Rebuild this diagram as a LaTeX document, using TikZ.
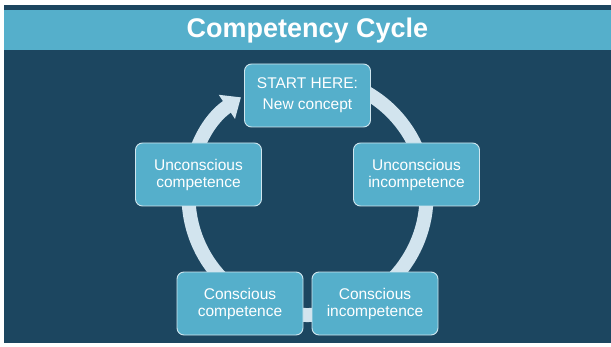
\documentclass[tikz,border=0pt]{standalone}
\usepackage{fontspec}
\setmainfont{Liberation Sans}
\usetikzlibrary{arrows.meta}
\definecolor{navy}{HTML}{1C4660}
\definecolor{band}{HTML}{55AFCB}
\definecolor{ringcol}{HTML}{D2E4EE}
\definecolor{edgecol}{HTML}{CFE6EF}

\begin{document}
\begin{tikzpicture}[
    x=1pt, y=1pt,
    every node/.style={font=\fontsize{15.5}{17}\selectfont, text=white},
    stage/.style={rectangle, rounded corners=7pt, draw=edgecol, fill=band,
        line width=0.9pt, minimum width=126pt, minimum height=63pt,
        align=center, inner sep=0pt},
    ring/.style={ringcol, line width=14pt},
]
\useasboundingbox (0,0) rectangle (611,346);
\fill[white] (0,0) rectangle (611,346);

% ============================================================ slide and title
\fill[navy] (4,3) rectangle (611,341);
\fill[band] (4,296) rectangle (611,336);
\node[font=\bfseries\fontsize{27}{30}\selectfont] (title) at (307.5,315) {Competency Cycle};

% ============================================================ the ring, behind the stages
\coordinate (hub) at (307.5,150);
\draw[ring, -{Triangle[length=17pt, width=28pt]}]
    ([shift={(100:119)}]hub) arc[start angle=100, end angle=-236, radius=119];

% ============================================================ the stages
\node[stage] (start)   at (307.5,250.5) {START HERE:\\[4pt]New concept};
\node[stage] (uninc)   at (416.5,171.5) {Unconscious\\incompetence};
\node[stage] (coninc)  at (375,42.5)    {Conscious\\incompetence};
\node[stage] (concomp) at (240,42.5)    {Conscious\\competence};
\node[stage] (uncomp)  at (198.5,171.5) {Unconscious\\competence};

\end{tikzpicture}
\end{document}
